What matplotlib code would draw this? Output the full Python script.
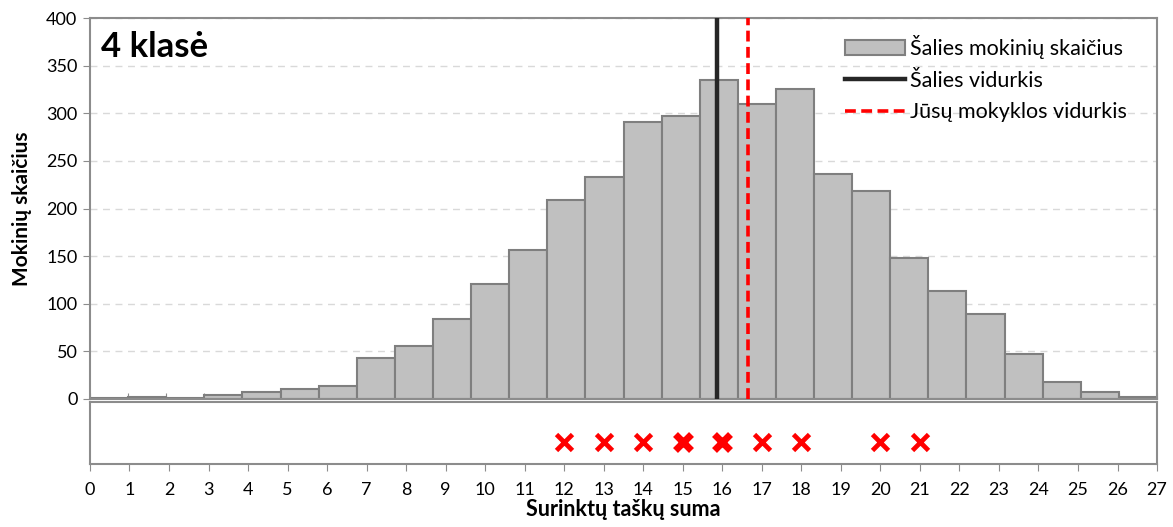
import matplotlib
matplotlib.use("Agg")
import matplotlib.pyplot as plt
import numpy as np
from collections import Counter
from matplotlib.lines import Line2D
from matplotlib.patches import Patch

plt.rcParams['font.family'] = ['Lato', 'DejaVu Sans']

# Data
categories = list(range(0, 28))
counts = [1, 2, 1, 4, 7, 11, 14, 43, 56, 84, 121, 156, 209, 233, 291, 297,
          335, 310, 326, 236, 218, 148, 113, 89, 47, 18, 7, 2]
national_mean = 15.95
school_mean = 16.77
school_scores = [12, 13, 14, 15, 15, 16, 16, 17, 18, 20, 21]
y_ticks = [0, 50, 100, 150, 200, 250, 300, 350, 400]
x_ticks = list(range(0, 28))

title = "4 klasė"
ylabel = "Mokinių skaičius"
xlabel = "Surinktų taškų suma"
leg_labels = ["Šalies mokinių skaičius", "Šalies vidurkis", "Jūsų mokyklos vidurkis"]

fig = plt.figure(figsize=(11.73, 5.27), dpi=100)
ax = fig.add_axes([0.0767, 0.2429, 0.9097, 0.7229])
axb = fig.add_axes([0.0767, 0.1195, 0.9097, 0.1180])

gray_edge = '#8C8C8C'
ax.bar(categories, counts, width=1.0, color='#C0C0C0', edgecolor='#7F7F7F',
       linewidth=1.5, zorder=2)
ax.axvline(national_mean, color='#262626', linewidth=3.2, zorder=3)
ax.axvline(school_mean, color='#FF0000', linewidth=2.6, linestyle=(0, (3, 1.5)), zorder=3)

ax.set_xlim(-0.5, 27.5)
ax.set_ylim(0, 400)
ax.set_yticks(y_ticks)
ax.set_yticklabels([str(v) for v in y_ticks], fontsize=13)
ax.set_xticks(np.arange(-0.5, 28.0, 1.0))
ax.set_xticklabels([])
ax.tick_params(axis='x', length=4, color=gray_edge, direction='in')
ax.tick_params(axis='y', length=5, color=gray_edge, direction='out', pad=4)
ax.yaxis.grid(True, linestyle=(0, (5, 4)), color='#D9D9D9', linewidth=1.0, zorder=0)
ax.set_axisbelow(True)
for s in ax.spines.values():
    s.set_color(gray_edge)
    s.set_linewidth(1.5)
ax.set_ylabel(ylabel, fontsize=15, fontweight='bold', labelpad=10)
ax.text(0.010, 0.925, title, transform=ax.transAxes, fontsize=25, fontweight='bold',
        va='center', ha='left')

handles = [Patch(facecolor='#C0C0C0', edgecolor='#7F7F7F', linewidth=1.5),
           Line2D([0], [0], color='#262626', linewidth=3.2),
           Line2D([0], [0], color='#FF0000', linewidth=2.6, linestyle=(0, (3, 1.5)))]
leg = ax.legend(handles, leg_labels, loc='upper right', bbox_to_anchor=(0.984, 0.99),
                frameon=False, fontsize=15.5, handlelength=2.8, handletextpad=0.25,
                labelspacing=0.55, borderaxespad=0.2)

# Lower strip with school scores
cnt = Counter(school_scores)
for score, n in sorted(cnt.items()):
    axb.plot([score], [0.46], marker='x', color='#FF0000', markersize=12,
             markeredgewidth=3.4 + 1.6 * (n - 1), linestyle='none')
axb.set_xlim(0, 27)
axb.set_ylim(0, 1.3)
axb.set_yticks([])
axb.set_xticks(x_ticks)
axb.set_xticklabels([str(v) for v in x_ticks], fontsize=13)
axb.tick_params(axis='x', length=5, color=gray_edge, direction='out', pad=8)
for s in axb.spines.values():
    s.set_color(gray_edge)
    s.set_linewidth(1.5)
axb.set_xlabel(xlabel, fontsize=15.5, fontweight='bold', labelpad=1)

fig.savefig("out.png", dpi=100)
